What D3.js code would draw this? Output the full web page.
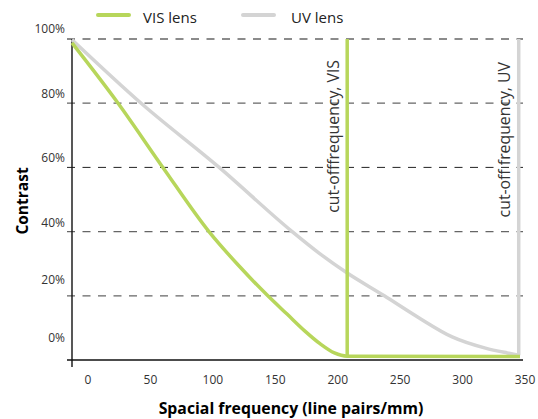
<!DOCTYPE html>
<html>
<head>
<meta charset="utf-8">
<script src="https://cdn.jsdelivr.net/npm/d3@7/dist/d3.min.js"></script>
<style>
  html, body { margin: 0; padding: 0; background: #fff; }
  svg { display: block; font-family: "Open Sans", "Noto Sans", sans-serif; }
</style>
</head>
<body>
<svg id="chart" width="538" height="419"></svg>
<script>
// ---- data ----
const freqTicks = [0, 50, 100, 150, 200, 250, 300, 350];
const contrastTicks = [0, 20, 40, 60, 80, 100];
const contrastTickLabels = ["0%", "20%", "40%", "60%", "80%", "100%"];

const seriesNames = ["VIS lens", "UV lens"];

const visFreq     = [0,    36, 71, 107, 130,  153, 168,  182, 194, 205, 215, 350];
const visContrast = [98.8, 80, 60, 40,  29.5, 20,  14.3, 9,   5,   2.2, 1.2, 1.1];

const uvFreq      = [0,    54, 115, 172, 193,  215,  244, 270,  297, 323, 340, 349];
const uvContrast  = [99.8, 80, 60,  40,  33.3, 27.1, 20,  13.4, 7.2, 3.7, 2.2, 1.5];

const cutoffFreq     = [215, 349];
const cutoffContrast = [1.2, 1.5];
const cutoffLabels   = ["cut-offfrequency, VIS", "cut-off frequency, UV"];

const xTitle = "Spacial frequency (line pairs/mm)";
const yTitle = "Contrast";

// ---- styles ----
const colors = ["#b7d65b", "#d4d4d4"];

const svg = d3.select("#chart");

const x = d3.scaleLinear().domain([0, 350]).range([72, 520]);
const xLabel = d3.scaleLinear().domain([0, 350]).range([88, 525]);
const y = d3.scaleLinear().domain([0, 100]).range([360, 39]);
const labelLift = d3.scaleLinear().domain([0, 20, 40, 100]).range([22, 16.5, 9, 10]);

// gridlines
svg.append("g").selectAll("line")
  .data(contrastTicks.filter(v => v > 0))
  .join("line")
  .attr("x1", 67).attr("x2", 523)
  .attr("y1", d => y(d)).attr("y2", d => y(d))
  .attr("stroke", d => d === 60 ? "#222" : "#666")
  .attr("stroke-width", d => d === 60 ? 1 : 1.3)
  .attr("stroke-dasharray", "8,7.5");

// axes lines
svg.append("line")
  .attr("x1", x(0)).attr("x2", x(0))
  .attr("y1", y(100)).attr("y2", y(0) + 7)
  .attr("stroke", "#111").attr("stroke-width", 1.4);
svg.append("line")
  .attr("x1", 67).attr("x2", 523)
  .attr("y1", y(0)).attr("y2", y(0))
  .attr("stroke", "#111").attr("stroke-width", 1.4);

// y tick labels
svg.append("g").selectAll("text")
  .data(contrastTicks)
  .join("text")
  .attr("x", 65)
  .attr("y", d => y(d) - labelLift(d))
  .attr("dy", "0.35em")
  .attr("text-anchor", "end")
  .attr("font-size", 12)
  .attr("fill", "#333")
  .text((d, i) => contrastTickLabels[i]);

// x tick labels
svg.append("g").selectAll("text")
  .data(freqTicks)
  .join("text")
  .attr("x", d => xLabel(d))
  .attr("y", 383.5)
  .attr("text-anchor", "middle")
  .attr("font-size", 12)
  .attr("fill", "#333")
  .text(d => d);

// curves
const line = d3.line()
  .x(d => x(d[0])).y(d => y(d[1]))
  .curve(d3.curveMonotoneX);

const uvData = uvFreq.map((f, i) => [f, uvContrast[i]]);
const visData = visFreq.map((f, i) => [f, visContrast[i]]);

svg.append("path")
  .attr("d", line(uvData))
  .attr("fill", "none")
  .attr("stroke", colors[1])
  .attr("stroke-width", 3.5);

// cut-off lines
svg.append("g").selectAll("line")
  .data(cutoffFreq)
  .join("line")
  .attr("x1", d => x(d)).attr("x2", d => x(d))
  .attr("y1", y(100))
  .attr("y2", (d, i) => y(cutoffContrast[i]))
  .attr("stroke", (d, i) => colors[i])
  .attr("stroke-width", 3.5);

svg.append("path")
  .attr("d", line(visData))
  .attr("fill", "none")
  .attr("stroke", colors[0])
  .attr("stroke-width", 3.5);

// cut-off labels
svg.append("g").selectAll("text")
  .data(cutoffFreq)
  .join("text")
  .attr("transform", (d, i) => `translate(${x(d) - 8.5},${i === 0 ? 60 : 62}) rotate(-90)`)
  .attr("text-anchor", "end")
  .attr("font-size", 15.8)
  .attr("fill", "#333")
  .text((d, i) => cutoffLabels[i]);

// legend
const legendX = [98, 243];
const lg = svg.append("g").selectAll("g")
  .data(seriesNames)
  .join("g")
  .attr("transform", (d, i) => `translate(${legendX[i]},15)`);
lg.append("line")
  .attr("x1", 0).attr("x2", 31)
  .attr("stroke", (d, i) => colors[i])
  .attr("stroke-width", 4)
  .attr("stroke-linecap", "round");
lg.append("text")
  .attr("x", (d, i) => i === 0 ? 45 : 48)
  .attr("y", 7.5)
  .attr("font-size", 15)
  .attr("fill", "#222")
  .text(d => d);

// axis titles
svg.append("text")
  .attr("x", 291).attr("y", 414)
  .attr("text-anchor", "middle")
  .attr("font-size", 15.8)
  .attr("font-weight", "bold")
  .attr("fill", "#000")
  .text(xTitle);

svg.append("text")
  .attr("transform", "translate(28,201) rotate(-90)")
  .attr("text-anchor", "middle")
  .attr("font-size", 15.5)
  .attr("font-weight", "bold")
  .attr("fill", "#000")
  .text(yTitle);
</script>
</body>
</html>
